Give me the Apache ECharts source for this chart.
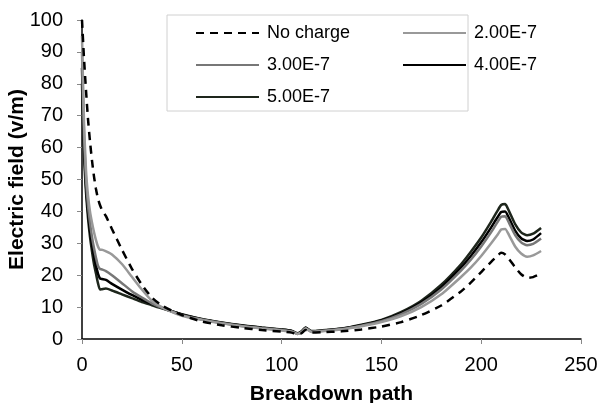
<!DOCTYPE html>
<html>
<head>
<meta charset="utf-8">
<script src="https://cdn.jsdelivr.net/npm/echarts@6/dist/echarts.min.js"></script>
<style>
  html, body { margin: 0; padding: 0; background: #fff; }
  #chart { width: 599px; height: 403px; }
</style>
</head>
<body>
<div id="chart"></div>
<script>
// breakdown path positions
var xPath = [0, 1, 2, 3, 4, 5, 6, 7, 8, 9, 10, 12, 15, 20, 25, 30, 35, 40, 50, 60, 70, 80, 90, 100,
  105, 108, 110, 112, 115, 120, 130, 140, 150, 160, 170, 180, 190, 195, 200, 205, 208, 210, 212,
  214, 217, 220, 223, 226, 230];

var seriesNames = ['No charge', '2.00E-7', '3.00E-7', '4.00E-7', '5.00E-7'];

var noCharge = [100, 88, 78, 69, 62, 56, 51, 47, 44, 42, 40.5, 38.5, 34.5, 28, 22, 17, 13, 10.5, 7.5,
  5.5, 4.3, 3.5, 2.8, 2.3, 2.0, 1.5, 1.8, 2.8, 2.0, 2.1, 2.4, 3.0, 3.9, 5.3, 7.5, 10.5, 15, 17.8, 21,
  24.2, 26, 27, 26.5, 25, 22.5, 20.3, 19.2, 19.4, 20.5];

var charge2 = [95, 68, 53, 45, 40, 36.5, 33.5, 31, 29, 28, 28, 27.5, 26.5, 23.5, 19.5, 15.5, 12, 10, 7.3,
  6.0, 4.9, 4.0, 3.3, 2.7, 2.3, 1.6, 2.1, 3.3, 2.2, 2.4, 3.0, 4.0, 5.3, 7.2, 10, 14, 19.5, 22.5, 26,
  30, 32.5, 34.3, 34.5, 32.5, 29, 26.8, 25.8, 26.2, 27.6];

var charge3 = [90, 64, 50, 42, 36.5, 32, 28.5, 25.5, 23, 22, 21.8, 21.3, 20, 17.5, 15, 13, 11.2, 9.8, 7.5,
  6.1, 5.0, 4.1, 3.4, 2.8, 2.4, 1.6, 2.2, 3.4, 2.3, 2.5, 3.1, 4.2, 5.6, 7.8, 11, 15.5, 21.5, 25, 29,
  33.5, 36.5, 38.3, 38.5, 36.3, 32.6, 30.3, 29.4, 29.8, 31.5];

var charge4 = [85, 61, 48, 40, 34, 29.5, 26, 23, 20.5, 19, 18.8, 18.5, 17.3, 15.5, 13.8, 12.3, 11, 9.8, 7.7,
  6.2, 5.1, 4.2, 3.5, 2.9, 2.5, 1.7, 2.3, 3.5, 2.4, 2.6, 3.2, 4.3, 5.8, 8.1, 11.5, 16.2, 22.5, 26.2, 30.3,
  35, 38, 39.8, 40, 37.8, 34, 31.6, 30.7, 31.2, 33.2];

var charge5 = [80, 58, 46, 38, 32, 27.5, 23.5, 20.5, 17.5, 15.5, 15.6, 15.8, 15.2, 14, 12.8, 11.6, 10.6, 9.6, 7.8,
  6.3, 5.2, 4.3, 3.6, 3.0, 2.6, 1.8, 2.4, 3.6, 2.5, 2.7, 3.3, 4.5, 6.0, 8.5, 12, 17, 23.5, 27.5, 31.8,
  36.8, 40, 42, 42.3, 40, 36, 33.4, 32.5, 33, 34.8];

var lineColors = ['#000000', '#999999', '#777777', '#000000', '#1e261c'];

function pairs(ys) {
  var out = [];
  for (var i = 0; i < xPath.length; i++) {
    out.push([xPath[i], ys[i]]);
  }
  return out;
}

var allData = [noCharge, charge2, charge3, charge4, charge5];

var chart = echarts.init(document.getElementById('chart'));

var series = [];
for (var i = 0; i < seriesNames.length; i++) {
  series.push({
    name: seriesNames[i],
    type: 'line',
    symbol: 'none',
    smooth: 0.2,
    z: 10 - i,
    lineStyle: {
      color: lineColors[i],
      width: 2.5,
      type: i === 0 ? [8, 6] : 'solid'
    },
    itemStyle: { color: lineColors[i] },
    data: pairs(allData[i])
  });
}

var legendText = { fontFamily: 'Liberation Sans, Arial', fontSize: 18, color: '#000', padding: [0, 0, 0, 3] };

function legendAt(names, left) {
  return {
    data: names,
    orient: 'vertical',
    left: left,
    top: 19,
    itemWidth: 63,
    itemHeight: 14,
    itemGap: 14,
    itemStyle: { opacity: 0 },
    textStyle: legendText,
    z: 60
  };
}

var option = {
  animation: false,
  backgroundColor: '#fff',
  grid: { left: 82, right: 18, top: 20, bottom: 64, containLabel: false, outerBoundsMode: 'none' },
  graphic: [{
    type: 'rect',
    shape: { x: 167, y: 15, width: 301, height: 96 },
    style: { fill: '#fff', stroke: '#d0d0d0', lineWidth: 1 },
    z: 50
  }],
  legend: [
    legendAt(['No charge', '3.00E-7', '5.00E-7'], 190),
    legendAt(['2.00E-7', '4.00E-7'], 397)
  ],
  xAxis: {
    type: 'value',
    min: 0,
    max: 250,
    interval: 50,
    name: 'Breakdown path',
    nameLocation: 'middle',
    nameGap: 45,
    nameTextStyle: { fontFamily: 'Liberation Sans, Arial', fontSize: 21, fontWeight: 'bold', color: '#000' },
    axisLine: { lineStyle: { color: '#000', width: 1.5 } },
    axisTick: { show: true, length: 5, lineStyle: { color: '#888' } },
    axisLabel: { fontFamily: 'Liberation Sans, Arial', fontSize: 20, color: '#000', margin: 16 },
    splitLine: { show: false }
  },
  yAxis: {
    type: 'value',
    min: 0,
    max: 100,
    interval: 10,
    name: 'Electric field (v/m)',
    nameLocation: 'middle',
    nameGap: 54,
    nameMoveOverlap: false,
    nameTextStyle: { fontFamily: 'Liberation Sans, Arial', fontSize: 21, fontWeight: 'bold', color: '#000' },
    axisLine: { show: true, lineStyle: { color: '#000', width: 1.5 } },
    axisTick: { show: true, length: 5, lineStyle: { color: '#888' } },
    axisLabel: { fontFamily: 'Liberation Sans, Arial', fontSize: 20, color: '#000', margin: 19 },
    splitLine: { show: false }
  },
  series: series
};

chart.setOption(option);
</script>
</body>
</html>
